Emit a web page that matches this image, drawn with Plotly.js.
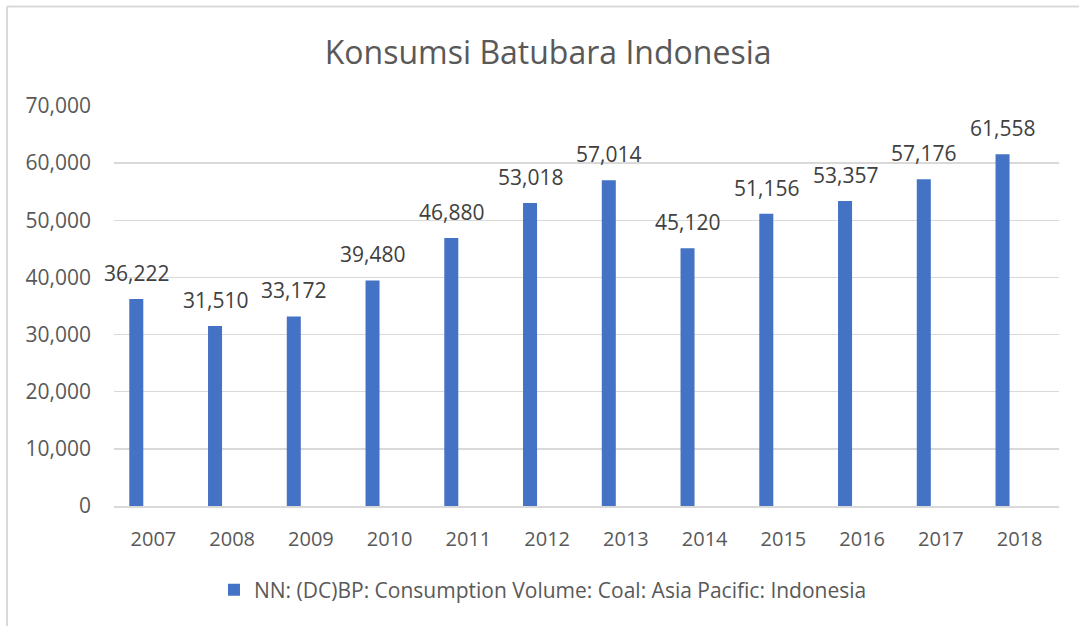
<!DOCTYPE html>
<html>
<head>
<meta charset="utf-8">
<script src="https://cdn.plot.ly/plotly-3.0.1.min.js"></script>
<style>html,body{margin:0;padding:0;background:#fff;}#chart{width:1079px;height:626px;}</style>
</head>
<body>
<div id="chart"></div>
<script>
const years = ['2007','2008','2009','2010','2011','2012','2013','2014','2015','2016','2017','2018'];
const consumption = [36222, 31510, 33172, 39480, 46880, 53018, 57014, 45120, 51156, 53357, 57176, 61558];
const seriesName = 'NN: (DC)BP: Consumption Volume: Coal: Asia Pacific: Indonesia';
const chartTitle = 'Konsumsi Batubara Indonesia';

const FONT = '"Open Sans", "Segoe UI", sans-serif';
const TXT = '#595959';
const BAR_WIDTH = 0.178;
const BAR_OFFSET = -0.306;

const trace = {
  type: 'bar',
  x: years,
  y: consumption,
  name: seriesName,
  marker: {color: '#4472C4'},
  width: BAR_WIDTH,
  offset: BAR_OFFSET,
  showlegend: true,
  hoverinfo: 'x+y'
};

const labels = years.map((yr, i) => ({
  xref: 'x', yref: 'y',
  x: i + BAR_OFFSET + BAR_WIDTH / 2,
  y: consumption[i],
  text: consumption[i].toLocaleString('en-US'),
  showarrow: false,
  xanchor: 'center',
  yanchor: 'bottom',
  yshift: 10,
  font: {family: FONT, size: 21, color: '#404040'}
}));

const layout = {
  width: 1079,
  height: 626,
  margin: {l: 114, r: 20, t: 106, b: 120},
  paper_bgcolor: '#ffffff',
  plot_bgcolor: '#ffffff',
  font: {family: FONT, color: TXT, size: 20},
  title: {
    text: chartTitle,
    font: {family: FONT, size: 32, color: TXT},
    x: 0.508, xanchor: 'center',
    y: 0.915, yanchor: 'middle', yref: 'container'
  },
  xaxis: {
    type: 'category',
    range: [-0.5, years.length - 0.5],
    autorange: false,
    showgrid: false,
    showline: true,
    linecolor: '#d9d9d9',
    linewidth: 2,
    ticks: '',
    tickfont: {family: FONT, size: 20, color: TXT},
    ticklabelstandoff: 14
  },
  yaxis: {
    range: [0, 70000],
    autorange: false,
    dtick: 10000,
    tickformat: ',d',
    showgrid: true,
    gridcolor: '#d9d9d9',
    gridwidth: 1.5,
    zeroline: false,
    showline: false,
    ticks: '',
    tickfont: {family: FONT, size: 21, color: TXT},
    ticklabelstandoff: 22
  },
  showlegend: true,
  legend: {
    orientation: 'h',
    x: 0.1058, xanchor: 'left',
    y: -0.21, yanchor: 'middle',
    font: {family: FONT, size: 21, color: TXT}
  },
  annotations: labels,
  shapes: [
    {type: 'line', xref: 'paper', yref: 'paper', x0: -0.1132, x1: 1.03, y0: 1.2487, y1: 1.2487, line: {color: '#d9d9d9', width: 2}},
    {type: 'line', xref: 'paper', yref: 'paper', x0: -0.1132, x1: -0.1132, y0: 1.2487, y1: -0.31, line: {color: '#d9d9d9', width: 2}}
  ],
  bargap: 0.2
};

Plotly.newPlot('chart', [trace], layout, {displayModeBar: false, staticPlot: true});
</script>
</body>
</html>
